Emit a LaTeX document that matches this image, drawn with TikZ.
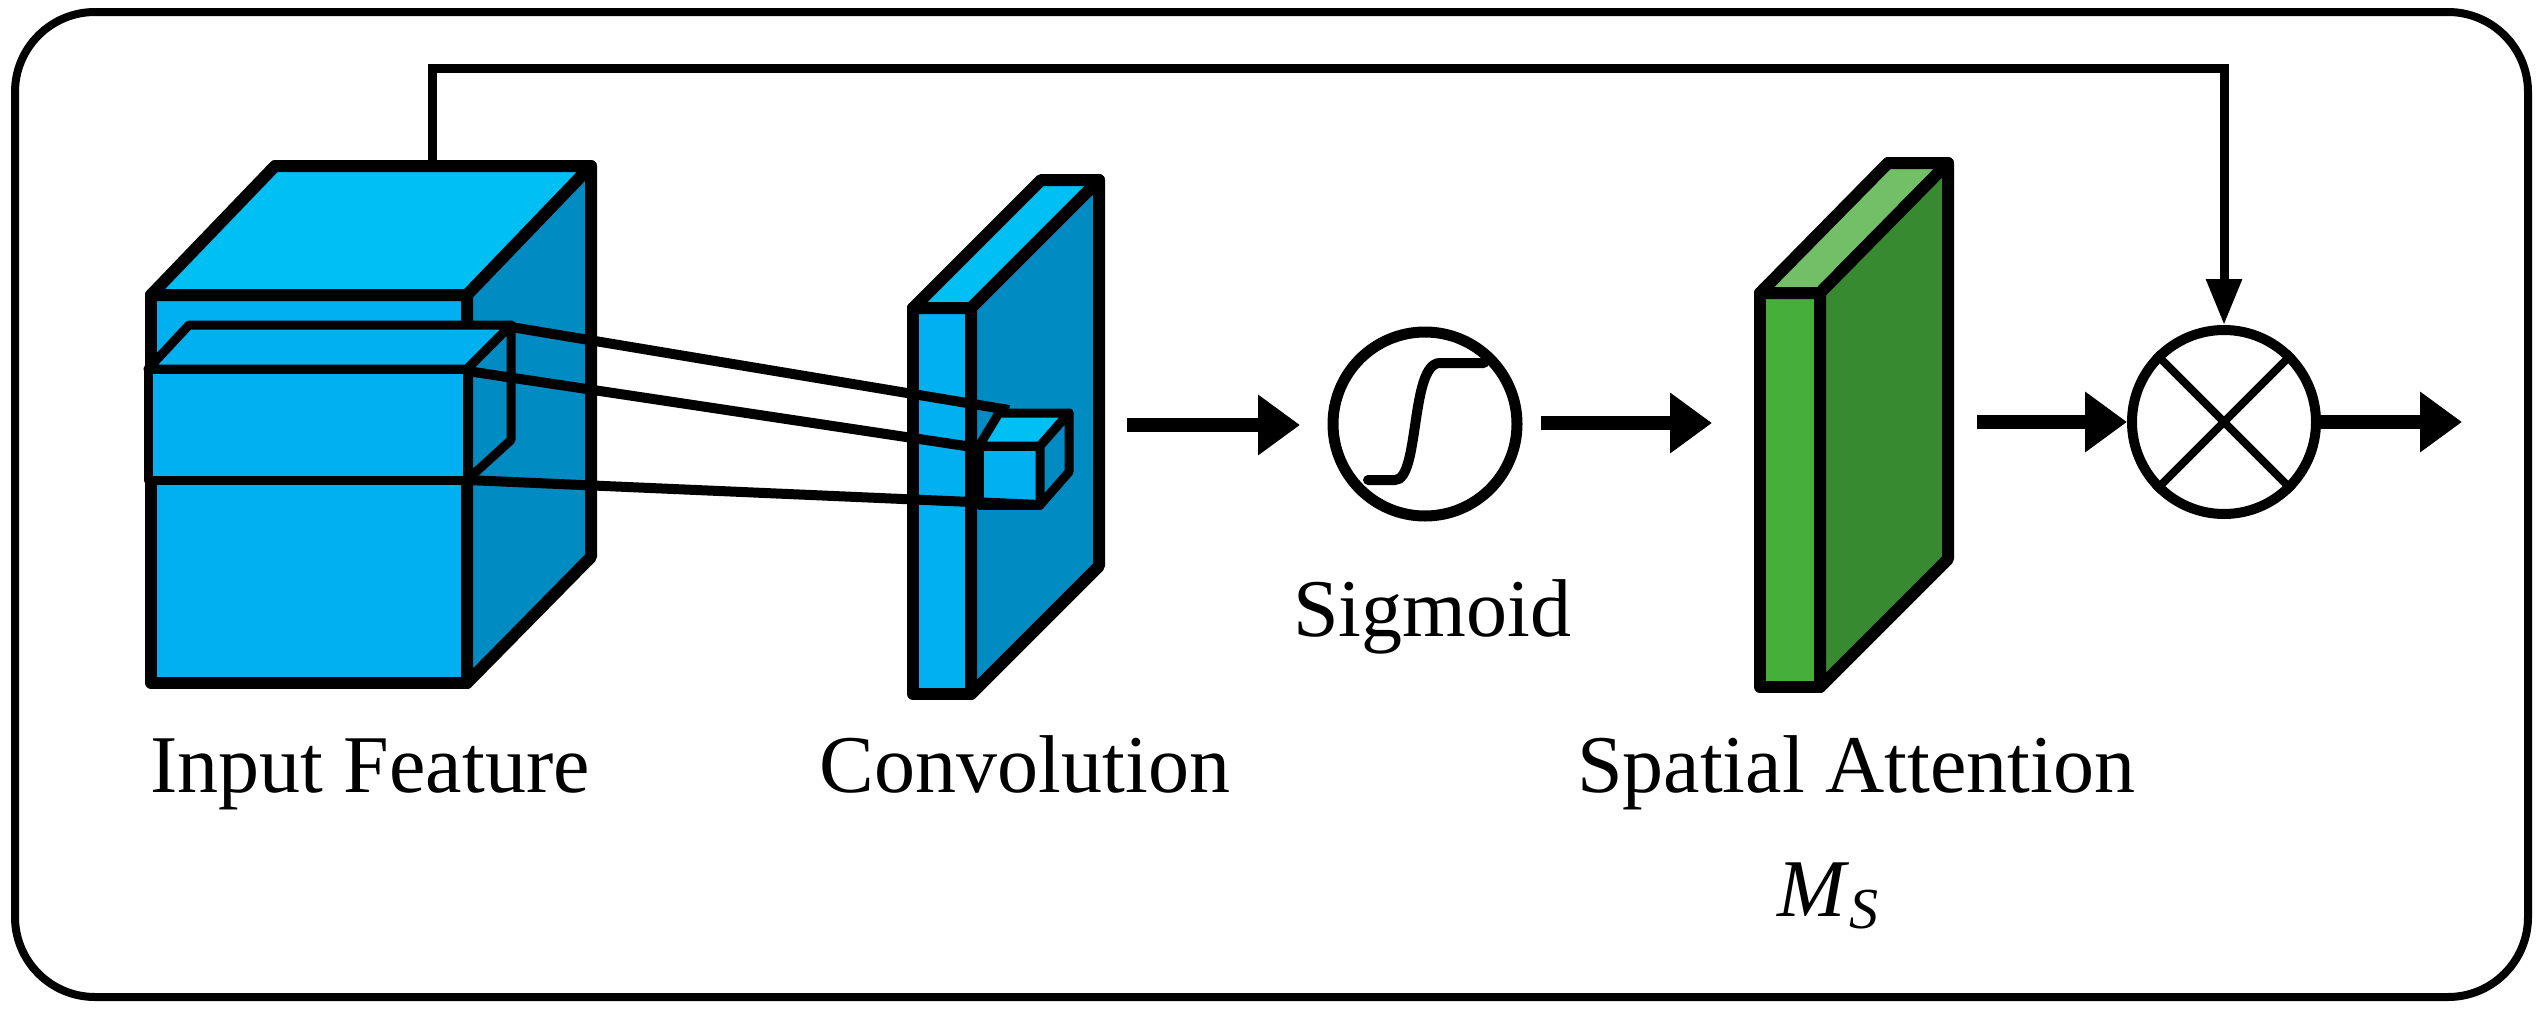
\documentclass[tikz,border=0pt]{standalone}
\usepackage{fontspec}
\setmainfont{Liberation Serif}
\usetikzlibrary{arrows.meta}
\definecolor{bfront}{HTML}{00B0F0}
\definecolor{btop}{HTML}{00C0F3}
\definecolor{bside}{HTML}{008CC3}
\definecolor{gfront}{HTML}{45AF3A}
\definecolor{gside}{HTML}{388A30}
\definecolor{gtop}{HTML}{72BF67}
\begin{document}
\begin{tikzpicture}[x=1pt,y=-1pt,
  edge/.style={draw=black,line width=12pt,line join=round},
  thin/.style={draw=black,line width=9pt,line join=round},
  flow/.style={line width=14pt,-{Triangle[length=42pt,width=58pt]}},
  lab/.style={font=\fontsize{82}{96}\selectfont,anchor=base}]
\useasboundingbox (0,0) rectangle (2543,1009);
\draw[line width=8pt,rounded corners=80pt] (15,12) rectangle (2528,997);
% input cube
\draw[edge,fill=bfront] (151,295) rectangle (467,683);
\draw[edge,fill=btop] (151,295) -- (275,166) -- (591,166) -- (467,295) -- cycle;
\draw[edge,fill=bside] (467,295) -- (591,166) -- (591,557) -- (467,683) -- cycle;
% kernel
\draw[thin,fill=bfront] (148,369) -- (189,325) -- (511,325) -- (467,369) -- cycle;
\draw[thin,fill=bfront] (148,369) rectangle (467,480);
\draw[thin] (467,369) -- (511,325) -- (511,440) -- (467,480);
% convolution plate
\draw[edge,fill=bfront] (913,308) rectangle (971,694);
\draw[edge,fill=btop] (913,308) -- (1041,180) -- (1099,180) -- (971,308) -- cycle;
\draw[edge,fill=bside] (971,308) -- (1099,180) -- (1099,566) -- (971,694) -- cycle;
% small cube
\draw[thin,fill=btop] (979,446) -- (999,413) -- (1069,413) -- (1040,446) -- cycle;
\draw[thin,fill=bfront] (979,446) rectangle (1040,505);
\draw[thin,fill=bside] (1040,446) -- (1069,413) -- (1069,472) -- (1040,505) -- cycle;
\coordinate (k1) at (511,327); \coordinate (s1) at (1009,410);
\coordinate (k2) at (467,371); \coordinate (s2) at (979,448);
\coordinate (k3) at (467,480); \coordinate (s3) at (1040,505);
\draw[line width=10pt] (k1) -- (s1) (k2) -- (s2) (k3) -- (s3);
% sigmoid
\node[circle,draw,line width=11pt,minimum size=184pt,inner sep=0pt] (sig) at (1425,424) {};
\draw[line width=10pt,line cap=round] (1368,480) -- (1395,480) .. controls (1420,480) and (1410,363) .. (1440,363) -- (1484,363);
% green plate
\draw[edge,fill=gfront] (1760,293) rectangle (1820,687);
\draw[edge,fill=gtop] (1760,293) -- (1888,163) -- (1948,163) -- (1820,293) -- cycle;
\draw[edge,fill=gside] (1820,293) -- (1948,163) -- (1948,559) -- (1820,687) -- cycle;
% otimes
\node[circle,draw,line width=10pt,minimum size=184pt,inner sep=0pt] (mul) at (2224,422) {};
\draw[line width=8pt] (mul.45) -- (mul.225) (mul.135) -- (mul.315);
% arrows
\coordinate (a1) at (1127,425); \coordinate (a1e) at (1300,425);
\draw[flow] (a1) -- (a1e);
\coordinate (a2) at (1541,423); \coordinate (a2e) at (1712,423);
\draw[flow] (a2) -- (a2e);
\coordinate (a3) at (1977,422);
\draw[flow] (a3) -- (mul.west);
\coordinate (a4e) at (2462,422);
\draw[flow] (mul.east) -- (a4e);
\coordinate (t0) at (432,166);
\draw[line width=9pt,-{Triangle[length=46pt,width=34pt]}] (t0) -- (432,68) -| (mul.north);
% labels
\node[lab] (l1) at (370,792) {Input Feature};
\node[lab] (l2) at (1025,792) {Convolution};
\node[lab] (l3) at (1432,636) {Sigmoid};
\node[lab] (l4) at (1856,792) {Spatial Attention};
\node[lab] (l5) at (1828,916) {\textit{M}{\fontsize{58}{60}\selectfont\raisebox{-12pt}{\textit{S}}}};
\end{tikzpicture}
\end{document}
